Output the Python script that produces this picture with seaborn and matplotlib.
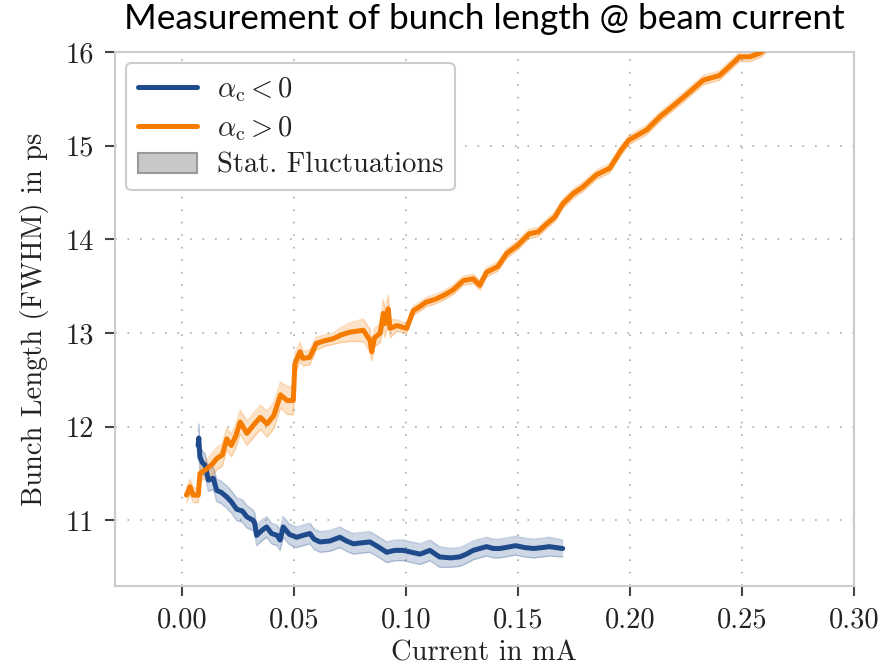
import seaborn as sns
import matplotlib.pyplot as plt
from matplotlib.patches import Patch
from matplotlib.lines import Line2D
import numpy as np

# orange: alpha_c > 0
pos_current = [0.002, 0.0036, 0.005, 0.0073, 0.008, 0.011, 0.0135, 0.0155, 0.018, 0.020,
               0.022, 0.024, 0.026, 0.029, 0.032, 0.035, 0.038, 0.041, 0.044, 0.047,
               0.0497, 0.0504, 0.0527, 0.054, 0.057, 0.060, 0.064, 0.0675, 0.071, 0.075,
               0.081, 0.084, 0.0847, 0.086, 0.0885, 0.0899, 0.0906, 0.0921, 0.0929, 0.096,
               0.1003, 0.1033, 0.106, 0.109, 0.113, 0.1167, 0.121, 0.1256, 0.130, 0.133,
               0.136, 0.141, 0.145, 0.150, 0.155, 0.159, 0.163, 0.1665, 0.170, 0.1747,
               0.179, 0.185, 0.191, 0.196, 0.1995, 0.2075, 0.2134, 0.218, 0.224, 0.2327,
               0.240, 0.245, 0.249, 0.2536, 0.258, 0.263]
pos_length = [11.27, 11.36, 11.27, 11.27, 11.50, 11.55, 11.60, 11.66, 11.70, 11.87,
              11.80, 11.90, 12.05, 11.93, 12.02, 12.10, 12.03, 12.12, 12.34, 12.28,
              12.28, 12.67, 12.80, 12.73, 12.74, 12.89, 12.92, 12.94, 12.98, 13.01,
              13.03, 12.92, 12.80, 12.95, 13.00, 13.21, 13.10, 13.26, 13.05, 13.08,
              13.05, 13.24, 13.28, 13.33, 13.36, 13.40, 13.46, 13.56, 13.58, 13.51,
              13.65, 13.71, 13.85, 13.94, 14.06, 14.08, 14.17, 14.24, 14.38, 14.49,
              14.56, 14.69, 14.76, 14.95, 15.06, 15.17, 15.31, 15.40, 15.52, 15.70,
              15.75, 15.86, 15.95, 15.95, 15.99, 16.08]
pos_err = [0.08, 0.08, 0.08, 0.08, 0.08, 0.10, 0.12, 0.12, 0.12, 0.12,
           0.12, 0.13, 0.13, 0.13, 0.13, 0.13, 0.14, 0.14, 0.14, 0.15,
           0.15, 0.12, 0.10, 0.08, 0.08, 0.07, 0.06, 0.06, 0.08, 0.10,
           0.12, 0.12, 0.10, 0.10, 0.10, 0.15, 0.15, 0.15, 0.10, 0.06,
           0.05, 0.05, 0.05, 0.05, 0.05, 0.05, 0.05, 0.05, 0.05, 0.05,
           0.05, 0.05, 0.05, 0.05, 0.05, 0.05, 0.05, 0.05, 0.05, 0.05,
           0.05, 0.05, 0.05, 0.05, 0.05, 0.05, 0.05, 0.05, 0.05, 0.05,
           0.05, 0.05, 0.05, 0.05, 0.05, 0.05]

# blue: alpha_c < 0
neg_current = [0.0072, 0.0075, 0.0078, 0.008, 0.009, 0.0103, 0.0118, 0.014, 0.0155, 0.0175,
               0.020, 0.022, 0.0244, 0.027, 0.0289, 0.0318, 0.0325, 0.0333, 0.036, 0.0378,
               0.040, 0.0425, 0.0438, 0.0452, 0.048, 0.0512, 0.054, 0.0571, 0.059, 0.0616,
               0.066, 0.0705, 0.0735, 0.0765, 0.080, 0.0839, 0.0875, 0.0914, 0.095, 0.0988,
               0.1025, 0.1063, 0.1107, 0.115, 0.120, 0.124, 0.127, 0.130, 0.136, 0.139,
               0.142, 0.149, 0.153, 0.157, 0.161, 0.164, 0.170]
neg_length = [11.80, 11.88, 11.75, 11.68, 11.62, 11.59, 11.43, 11.45, 11.32, 11.30,
              11.25, 11.20, 11.12, 11.10, 11.04, 11.00, 10.97, 10.84, 10.90, 10.93,
              10.86, 10.84, 10.79, 10.93, 10.85, 10.82, 10.84, 10.86, 10.80, 10.77,
              10.78, 10.82, 10.78, 10.75, 10.76, 10.77, 10.72, 10.66, 10.68, 10.68,
              10.66, 10.64, 10.68, 10.61, 10.60, 10.61, 10.64, 10.68, 10.72, 10.70,
              10.70, 10.73, 10.71, 10.70, 10.71, 10.72, 10.70]
neg_err = [0.15, 0.15, 0.15, 0.14, 0.13, 0.12, 0.12, 0.12, 0.12, 0.12,
           0.12, 0.12, 0.12, 0.12, 0.12, 0.11, 0.11, 0.11, 0.11, 0.11,
           0.11, 0.11, 0.11, 0.11, 0.11, 0.11, 0.11, 0.11, 0.11, 0.11,
           0.11, 0.11, 0.11, 0.11, 0.11, 0.11, 0.11, 0.11, 0.11, 0.11,
           0.11, 0.11, 0.11, 0.11, 0.10, 0.10, 0.10, 0.10, 0.10, 0.10,
           0.10, 0.10, 0.10, 0.10, 0.10, 0.10, 0.09]

x_ticks = [0.00, 0.05, 0.10, 0.15, 0.20, 0.25, 0.30]
y_ticks = [11, 12, 13, 14, 15, 16]

blue = "#1f4b8c"
orange = "#f57c00"

sns.set_theme(style="white")
plt.rcParams["font.family"] = ["cmr10", "DejaVu Serif"]
plt.rcParams["mathtext.fontset"] = "cm"
plt.rcParams["axes.formatter.use_mathtext"] = True
plt.rcParams["axes.unicode_minus"] = False

fig = plt.figure(figsize=(8.83, 6.68), dpi=100)
ax = fig.add_axes([0.130, 0.1228, 0.837, 0.7992])

for xs, ys, es, col in [(neg_current, neg_length, neg_err, blue),
                        (pos_current, pos_length, pos_err, orange)]:
    xs, ys, es = np.array(xs), np.array(ys), np.array(es)
    ax.fill_between(xs, ys - es, ys + es, facecolor=col, alpha=0.22, lw=0, zorder=2)
    ax.plot(xs, ys - es, color=col, alpha=0.25, lw=1, zorder=2)
    ax.plot(xs, ys + es, color=col, alpha=0.25, lw=1, zorder=2)
    sns.lineplot(x=xs, y=ys, color=col, lw=3.6, ax=ax, zorder=3, sort=False)

ax.set_xlim(-0.03, 0.30)
ax.set_ylim(10.3, 16)
ax.set_xticks(x_ticks)
ax.set_xticklabels([f"{t:.2f}" for t in x_ticks])
ax.set_yticks(y_ticks)
ax.set_yticklabels([str(t) for t in y_ticks])
ax.tick_params(axis="both", labelsize=20.5, length=7, width=1.5, color="#444444",
               labelcolor="#222222", direction="out", bottom=True, left=True, pad=8)
ax.grid(True, color="#aaaaaa", lw=1.2, linestyle=(0, (1, 6.5)))
for sp in ax.spines.values():
    sp.set_color("#cccccc")
    sp.set_linewidth(1.5)

ax.set_xlabel("Current in mA", fontsize=20.5, labelpad=5, color="#222222")
ax.set_ylabel("Bunch Length (FWHM) in ps", fontsize=20.5, labelpad=12, color="#222222")

handles = [Line2D([], [], color=blue, lw=3.6),
           Line2D([], [], color=orange, lw=3.6),
           Patch(facecolor="#c8c8c8", edgecolor="#999999", lw=1.5)]
labels = [r"$\alpha_\mathrm{c} < 0$", r"$\alpha_\mathrm{c} > 0$", "Stat. Fluctuations"]
leg = ax.legend(handles, labels, loc="upper left", fontsize=20.5, frameon=True,
                fancybox=True, framealpha=1, borderpad=0.4, handlelength=2.1,
                handletextpad=0.7, labelspacing=0.35, borderaxespad=0.4)
leg.get_frame().set_edgecolor("#cccccc")
leg.get_frame().set_linewidth(1.5)
for t in leg.get_texts():
    t.set_color("#222222")

fig.text(0.549, 0.995, "Measurement of bunch length @ beam current", ha="center",
         va="top", fontsize=25.3, color="black", family=["Lato", "DejaVu Sans"])

fig.savefig("out.png", dpi=100)
